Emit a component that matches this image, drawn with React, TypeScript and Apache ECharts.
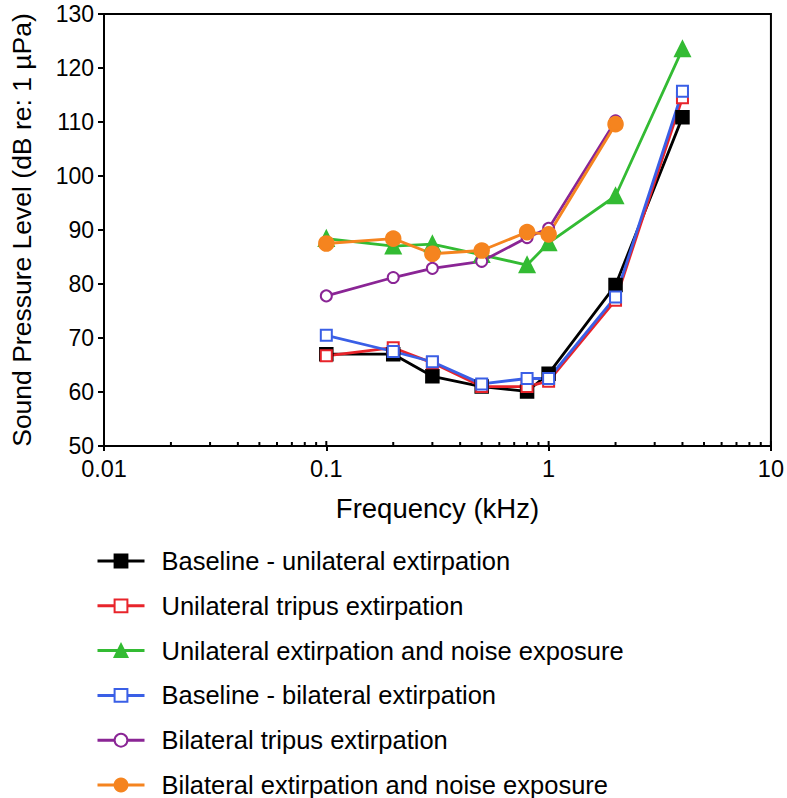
import React, { useEffect, useRef } from "react";
import * as echarts from "echarts";

const freqs = [0.1, 0.2, 0.3, 0.5, 0.8, 1, 2, 4];
const baselineUni = [67.0, 67.0, 62.9, 61.0, 60.1, 63.4, 79.8, 110.9];
const uniTripus = [66.7, 68.2, 65.4, 61.0, 61.0, 62.0, 77.0, 114.5];
const uniNoise = [88.4, 87.0, 87.4, 85.4, 83.5, 87.6, 96.3, 123.5];
const baselineBi = [70.5, 67.5, 65.6, 61.5, 62.5, 62.5, 77.6, 115.7];
const biTripus = [77.8, 81.2, 82.9, 84.2, 88.6, 90.3, 110.2];
const biNoise = [87.5, 88.4, 85.6, 86.2, 89.6, 89.2, 109.6];

const seriesNames = [
  "Baseline - unilateral extirpation",
  "Unilateral tripus extirpation",
  "Unilateral extirpation and noise exposure",
  "Baseline - bilateral extirpation",
  "Bilateral tripus extirpation",
  "Bilateral extirpation and noise exposure",
];

const majorTicks = [0.01, 0.1, 1, 10];
const minorTicks = [
  0.02, 0.03, 0.04, 0.05, 0.06, 0.07, 0.08, 0.09,
  0.2, 0.3, 0.4, 0.5, 0.6, 0.7, 0.8, 0.9,
  2, 3, 4, 5, 6, 7, 8, 9,
];
const yTicks = [50, 130, 10];

const FONT = "'Liberation Sans', Arial, Helvetica, sans-serif";

function pair(vals: number[]) {
  return vals.map((v, i) => [freqs[i], v]);
}

export default function App() {
  const ref = useRef<HTMLDivElement>(null);
  useEffect(() => {
    if (!ref.current) return;
    const chart = echarts.init(ref.current, null, { renderer: "svg" });
    const mk = (
      name: string,
      data: number[],
      color: string,
      symbol: string,
      size: number
    ) => ({
      name,
      type: "line",
      data: pair(data),
      symbol,
      symbolSize: size,
      showSymbol: true,
      lineStyle: { color, width: 2.8 },
      itemStyle: { color, borderColor: color, borderWidth: 2.5 },
      emphasis: { disabled: true },
      z: 3,
    });
    const tickData = [
      ...minorTicks.map((v) => [v, 4]),
      ...majorTicks.map((v) => [v, 5]),
    ];
    chart.setOption({
      animation: false,
      backgroundColor: "#fff",
      grid: {
        left: 98,
        right: 15,
        top: 14,
        bottom: 352,
        show: true,
        borderColor: "#000",
        borderWidth: 2,
        backgroundColor: "transparent",
      },
      xAxis: {
        type: "log",
        logBase: 10,
        min: 0.01,
        max: 10,
        name: "Frequency (kHz)",
        nameLocation: "middle",
        nameGap: 48,
        nameTextStyle: { fontSize: 27.5, color: "#000", fontFamily: FONT },
        axisLine: { lineStyle: { color: "#000", width: 2 } },
        axisTick: { show: true, length: 5, lineStyle: { color: "#000", width: 2 } },
        minorTick: { show: false },
        splitLine: { show: false },
        axisLabel: {
          fontSize: 23.5,
          color: "#000",
          fontFamily: FONT,
          margin: 11,
          formatter: (v: number) => {
            const m = majorTicks.find((t) => Math.abs(t - v) / t < 1e-6);
            return m !== undefined ? String(m) : "";
          },
        },
      },
      yAxis: {
        type: "value",
        min: yTicks[0],
        max: yTicks[1],
        interval: yTicks[2],
        name: "Sound Pressure Level (dB re: 1 µPa)",
        nameLocation: "middle",
        nameGap: 69,
        nameTextStyle: { fontSize: 26.5, color: "#000", fontFamily: FONT },
        axisLine: { show: true, lineStyle: { color: "#000", width: 2 } },
        axisTick: { show: true, length: 6, lineStyle: { color: "#000", width: 2 } },
        splitLine: { show: false },
        axisLabel: { fontSize: 23, color: "#000", fontFamily: FONT, margin: 10 },
      },
      legend: {
        data: seriesNames,
        orient: "vertical",
        left: 96,
        top: 548,
        height: 300,
        padding: 0,
        itemWidth: 47,
        itemHeight: 16,
        itemGap: 18.8,
        selectedMode: false,
        lineStyle: { width: 3 },
        textStyle: {
          fontSize: 25.5,
          lineHeight: 24,
          color: "#000",
          fontFamily: FONT,
          padding: [0, 0, 0, 12],
        },
      },
      series: [
        {
          type: "custom",
          name: "ticks",
          silent: true,
          z: 10,
          data: tickData,
          clip: false,
          renderItem: (params: any, api: any) => {
            const p = api.coord([api.value(0), 50]);
            const len = api.value(1);
            return {
              type: "line",
              shape: { x1: p[0], y1: p[1], x2: p[0], y2: p[1] - len },
              style: { stroke: "#000", lineWidth: 2 },
            };
          },
        },
        mk(seriesNames[0], baselineUni, "#000000", "rect", 12),
        mk(seriesNames[1], uniTripus, "#e8242b", "emptyRect", 11),
        mk(seriesNames[2], uniNoise, "#33bb33", "triangle", 14),
        mk(seriesNames[3], baselineBi, "#3a5fe6", "emptyRect", 11),
        mk(seriesNames[4], biTripus, "#8a2595", "emptyCircle", 11),
        mk(seriesNames[5], biNoise, "#f5841f", "circle", 14),
      ],
    });
    return () => chart.dispose();
  }, []);
  return (
    <div
      ref={ref}
      style={{ position: "absolute", left: 0, top: 0, width: 787, height: 798 }}
    />
  );
}
